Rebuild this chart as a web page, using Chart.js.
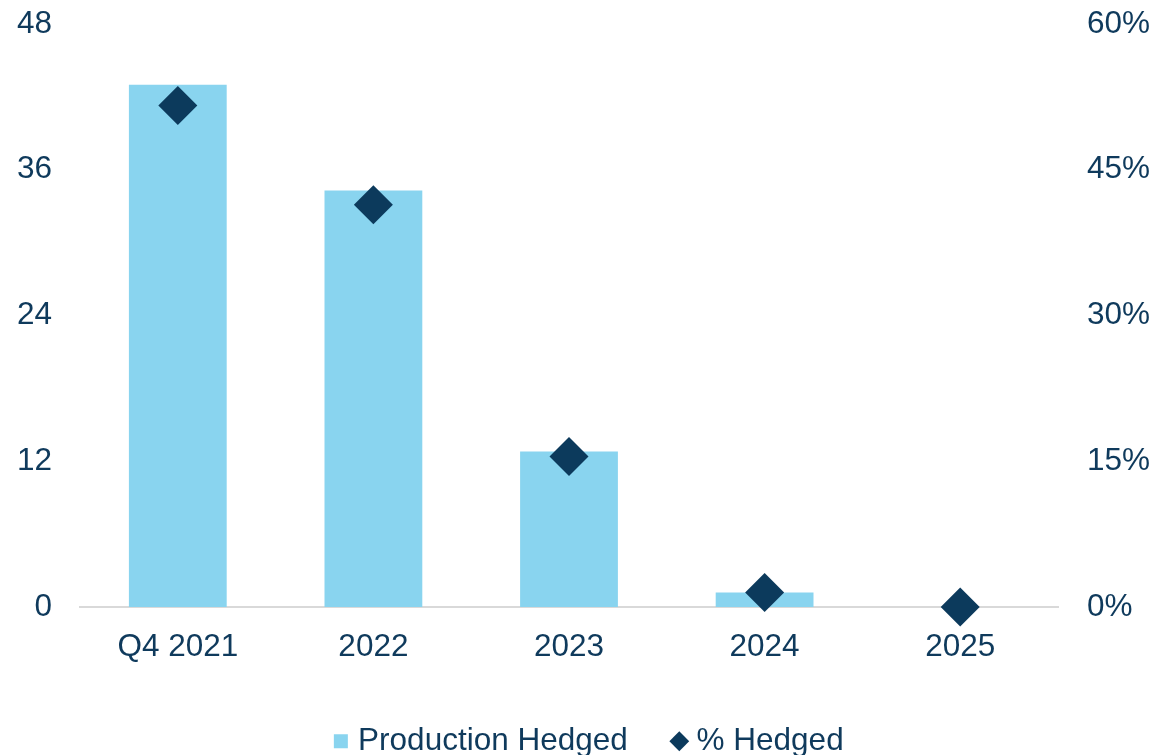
<!DOCTYPE html>
<html>
<head>
<meta charset="utf-8">
<script src="https://cdn.jsdelivr.net/npm/chart.js@4.4.0/dist/chart.umd.min.js"></script>
<style>
  html, body { margin: 0; padding: 0; background: #ffffff; overflow: hidden; }
  #wrap { position: relative; width: 1155px; height: 767px; }
</style>
</head>
<body>
<div id="wrap"><canvas id="c"></canvas></div>
<script>
const categories = ['Q4 2021', '2022', '2023', '2024', '2025'];
const productionHedged = [43.0, 34.3, 12.8, 1.2, 0];
const pctHedged = [51.6, 41.4, 15.5, 1.5, 0];
const leftTicks = [0, 12, 24, 36, 48];
const rightTicks = [0, 15, 30, 45, 60];

const TEXT = '#0f3a5c';
const BAR = '#89d4ef';
const DIAMOND = '#0c3a5c';
const FONT = { family: '"Liberation Sans", Arial, sans-serif', size: 31.5 };

const legendShift = {
  id: 'legendShift',
  afterLayout(chart) { if (chart.legend) { chart.legend.left += 28; } }
};

new Chart(document.getElementById('c'), {
  plugins: [legendShift],
  data: {
    labels: categories,
    datasets: [
      {
        type: 'bar',
        label: 'Production Hedged',
        data: productionHedged,
        backgroundColor: BAR,
        borderWidth: 0,
        barPercentage: 0.5,
        categoryPercentage: 1.0,
        yAxisID: 'y',
        order: 2,
        pointStyle: 'rect'
      },
      {
        type: 'line',
        label: '% Hedged',
        data: pctHedged,
        showLine: false,
        pointStyle: 'rectRot',
        pointRadius: 19.5,
        pointHoverRadius: 19.5,
        pointBorderWidth: 0,
        backgroundColor: DIAMOND,
        borderColor: DIAMOND,
        yAxisID: 'y1',
        order: 1,
        clip: false
      }
    ]
  },
  options: {
    responsive: true,
    maintainAspectRatio: false,
    animation: false,
    events: [],
    layout: { padding: { top: 24, left: 0, right: 0, bottom: 0 } },
    plugins: {
      tooltip: { enabled: false },
      legend: {
        position: 'bottom',
        align: 'center',
        labels: {
          usePointStyle: true,
          boxWidth: 3,
          boxHeight: 14,
          padding: 50,
          color: TEXT,
          font: FONT,
          sort: (a, b) => a.datasetIndex - b.datasetIndex
        }
      }
    },
    scales: {
      x: {
        grid: { display: false, drawTicks: false },
        border: { display: true, color: '#d9d9d9', width: 2 },
        ticks: { color: TEXT, font: FONT, padding: 21, maxRotation: 0 },
        afterFit: (s) => { s.height = 68.5; s.paddingLeft = 0; s.paddingRight = 0; }
      },
      y: {
        position: 'left',
        min: 0, max: 48,
        afterBuildTicks: (s) => { s.ticks = leftTicks.map(v => ({ value: v })); },
        grid: { display: false, drawTicks: false },
        border: { display: false },
        ticks: { color: TEXT, font: FONT, padding: 28 },
        afterFit: (s) => { s.width = 80; s.paddingTop = 0; s.paddingBottom = 0; }
      },
      y1: {
        position: 'right',
        min: 0, max: 60,
        afterBuildTicks: (s) => { s.ticks = rightTicks.map(v => ({ value: v })); },
        grid: { display: false, drawTicks: false },
        border: { display: false },
        ticks: { color: TEXT, font: FONT, padding: 29, callback: (v) => v + '%' },
        afterFit: (s) => { s.width = 97; s.paddingTop = 0; s.paddingBottom = 0; }
      }
    }
  }
});
</script>
</body>
</html>
